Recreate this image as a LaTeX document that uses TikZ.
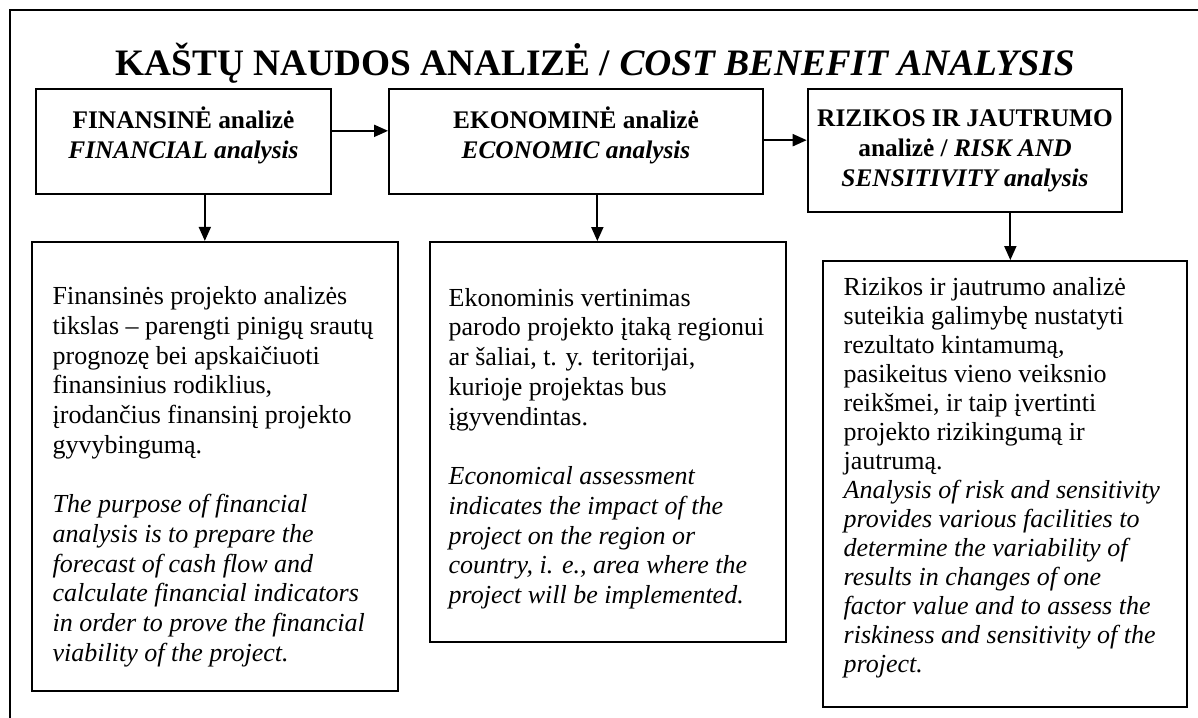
\documentclass[tikz,border=0pt]{standalone}
\usepackage{fontspec}
\setmainfont{Liberation Serif}
\usetikzlibrary{arrows.meta}

\begin{document}
\begin{tikzpicture}[x=0.75pt,y=-0.75pt,>={Triangle[length=10.5pt,width=9pt]}]
\tikzstyle{every node}=[inner sep=0pt]
\tikzstyle{head}=[draw,line width=1.4pt,align=center,font=\fontsize{19}{22.5}\selectfont\bfseries]
\tikzstyle{body}=[draw,line width=1.4pt,align=flush left,inner xsep=15.5pt,font=\fontsize{19.5}{22.3}\selectfont]
\tikzstyle{link}=[->,line width=1.4pt]
\clip (0,0) rectangle (1198,717);
\draw[line width=1.1pt] (1210,10) -- (10,10) -- (10,730);
\node[anchor=base,font=\fontsize{28}{32}\selectfont\bfseries](title) at (595,75) {KAŠTŲ NAUDOS ANALIZĖ / \textit{COST BENEFIT ANALYSIS}};
% top row
\node[head,minimum width=221pt,minimum height=79pt](fin) at (183.5,141.5) {FINANSINĖ analizė\\\textit{FINANCIAL analysis}\rule[-14pt]{0pt}{0pt}};
\node[head,minimum width=280.5pt,minimum height=79pt](eko) at (576,141.5) {EKONOMINĖ analizė\\\textit{ECONOMIC analysis}\rule[-14pt]{0pt}{0pt}};
\node[head,minimum width=236pt,minimum height=92pt](riz) at (965,150.5) {RIZIKOS IR JAUTRUMO\\analizė / \textit{RISK AND}\\\textit{SENSITIVITY analysis}};
% text boxes
\node[body,text width=243.5pt,minimum height=337pt](finbody) at (215,466.5) {\rule{0pt}{29pt}Finansinės projekto analizės\\tikslas – parengti pinigų srautų\\prognozę bei apskaičiuoti\\finansinius rodiklius,\\įrodančius finansinį projekto\\gyvybingumą.\\[22.3pt]
\textit{The purpose of financial}\\\textit{analysis is to prepare the}\\\textit{forecast of cash flow and}\\\textit{calculate financial indicators}\\\textit{in order to prove the financial}\\\textit{viability of the project.}};
\node[body,text width=239pt,inner xsep=14pt,minimum height=300pt](ekobody) at (608,442) {\rule{0pt}{23.5pt}Ekonominis vertinimas\\parodo projekto įtaką regionui\\ar šaliai, t. y. teritorijai,\\kurioje projektas bus\\įgyvendintas.\\[22.3pt]
\textit{Economical assessment}\\\textit{indicates the impact of the}\\\textit{project on the region or}\\\textit{country, i. e., area where the}\\\textit{project will be implemented.}};
\node[body,text width=242pt,minimum height=334.5pt,font=\fontsize{19.5}{21.75}\selectfont](rizbody) at (1005,484) {Rizikos ir jautrumo analizė\\suteikia galimybę nustatyti\\rezultato kintamumą,\\pasikeitus vieno veiksnio\\reikšmei, ir taip įvertinti\\projekto rizikingumą ir\\jautrumą.\\
\textit{Analysis of risk and sensitivity}\\\textit{provides various facilities to}\\\textit{determine the variability of}\\\textit{results in changes of one}\\\textit{factor value and to assess the}\\\textit{riskiness and sensitivity of the}\\\textit{project.}\rule[-13pt]{0pt}{0pt}};
% arrows
\draw[link] ([yshift=8pt]fin.east) -- ([yshift=8pt]fin.east -| eko.west);
\draw[link] ([yshift=1pt]eko.east) -- ([yshift=1pt]eko.east -| riz.west);
\draw[link] ([xshift=16pt]fin.south) -- ([xshift=16pt]fin.south |- finbody.north);
\draw[link] ([xshift=16pt]eko.south) -- ([xshift=16pt]eko.south |- ekobody.north);
\draw[link] ([xshift=34pt]riz.south) -- ([xshift=34pt]riz.south |- rizbody.north);
\end{tikzpicture}
\end{document}
